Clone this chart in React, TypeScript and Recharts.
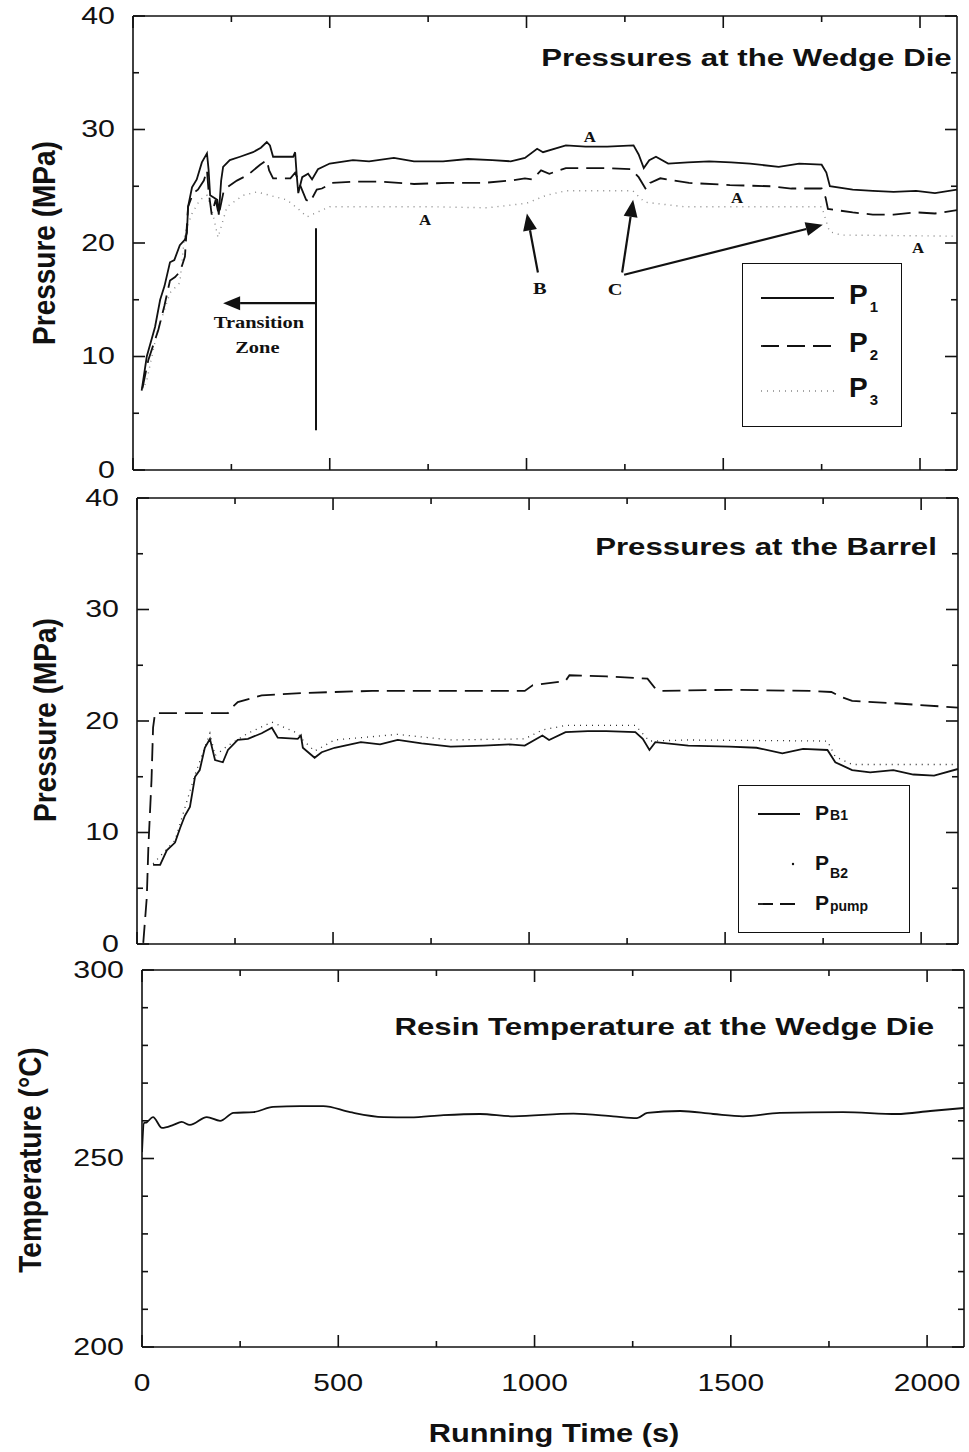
import React from "react";
import { LineChart, Line, XAxis, YAxis, ReferenceLine, ReferenceDot, Legend } from "recharts";

const W = 969;
const X_MAX = 2094;
const INK = "#111";
const SANS = "'Liberation Sans', Arial, Helvetica, sans-serif";
const SERIF = "'Liberation Serif', 'Times New Roman', serif";

const timeTicks = [0, 250, 500, 750, 1000, 1250, 1500, 1750, 2000];
const pressureTicks = [0, 5, 10, 15, 20, 25, 30, 35, 40];
const tempTicks = [200, 210, 220, 230, 240, 250, 260, 270, 280, 290, 300];

// pressures at the wedge die (MPa)
const p1Time = [22, 35, 56, 69, 80, 94, 105, 119, 132, 137, 140, 150, 162, 175, 188, 192, 196, 205, 214, 218, 224, 229, 246, 272, 305, 325, 340, 348, 356, 407, 412, 416, 420, 430, 445, 455, 470, 500, 559, 600, 663, 714, 788, 851, 913, 960, 996, 1027, 1042, 1100, 1150, 1205, 1272, 1285, 1298, 1312, 1329, 1360, 1410, 1464, 1520, 1568, 1641, 1693, 1750, 1762, 1771, 1829, 1880, 1933, 1990, 2038, 2094];
const p1Value = [7.0, 10.0, 12.6, 15.0, 16.2, 18.3, 18.5, 19.8, 20.3, 20.9, 23.2, 24.9, 25.6, 27.1, 27.9, 26.5, 24.2, 24.0, 23.8, 22.5, 25.5, 26.7, 27.3, 27.6, 28.0, 28.4, 28.9, 28.6, 27.6, 27.6, 28.0, 26.0, 24.4, 25.8, 26.1, 25.6, 26.5, 27.0, 27.3, 27.2, 27.5, 27.2, 27.2, 27.4, 27.3, 27.2, 27.5, 28.3, 28.0, 28.6, 28.5, 28.5, 28.6, 27.8, 26.6, 27.3, 27.6, 27.0, 27.1, 27.2, 27.1, 27.0, 26.7, 27.0, 26.9, 26.2, 25.0, 24.7, 24.6, 24.5, 24.6, 24.4, 24.7];

const p2Time = [24, 39, 64, 80, 94, 107, 120, 132, 140, 153, 165, 180, 188, 192, 200, 210, 218, 230, 239, 264, 292, 323, 340, 346, 356, 400, 412, 420, 440, 450, 467, 480, 506, 560, 631, 714, 800, 892, 960, 996, 1015, 1037, 1058, 1100, 1205, 1266, 1285, 1304, 1314, 1340, 1413, 1517, 1621, 1673, 1750, 1760, 1766, 1829, 1880, 1933, 1990, 2038, 2094];
const p2Value = [7.2, 9.7, 12.3, 14.5, 16.7, 17.0, 17.5, 18.8, 23.2, 24.4, 24.7, 25.5, 26.4, 24.6, 22.5, 23.8, 22.5, 24.5, 24.9, 25.5, 26.0, 26.9, 27.3, 26.4, 25.7, 25.7, 26.2, 25.5, 23.8, 23.6, 24.7, 24.8, 25.3, 25.4, 25.4, 25.2, 25.3, 25.3, 25.5, 25.7, 25.6, 26.4, 26.1, 26.6, 26.6, 26.5, 25.8, 24.7, 25.3, 25.7, 25.3, 25.1, 25.0, 24.8, 24.8, 24.0, 23.0, 22.7, 22.5, 22.5, 22.7, 22.6, 22.9];

const p3Time = [30, 35, 61, 94, 119, 132, 150, 170, 188, 200, 216, 239, 280, 315, 391, 420, 442, 500, 600, 750, 900, 1000, 1050, 1100, 1270, 1300, 1400, 1750, 1770, 1800, 2094];
const p3Value = [7.5, 7.9, 12.1, 15.6, 16.5, 20.9, 22.6, 23.8, 24.2, 23.0, 20.5, 23.2, 24.2, 24.5, 23.8, 23.0, 22.3, 23.2, 23.2, 23.2, 23.1, 23.5, 24.2, 24.6, 24.6, 23.6, 23.2, 23.2, 21.0, 20.7, 20.6];

// pressures at the barrel (MPa)
const pb1Time = [41, 59, 76, 97, 110, 122, 135, 148, 160, 173, 186, 199, 219, 232, 257, 283, 318, 344, 359, 410, 418, 423, 453, 471, 504, 571, 620, 665, 726, 800, 884, 950, 989, 1034, 1051, 1093, 1150, 1197, 1271, 1290, 1307, 1322, 1406, 1511, 1580, 1646, 1699, 1761, 1781, 1824, 1870, 1929, 1980, 2033, 2094];
const pb1Value = [7.1, 7.1, 8.4, 9.1, 10.4, 11.5, 12.3, 15.0, 15.6, 17.6, 18.4, 16.5, 16.3, 17.4, 18.3, 18.4, 18.9, 19.4, 18.5, 18.4, 18.7, 17.6, 16.7, 17.2, 17.6, 18.1, 17.9, 18.3, 18.0, 17.7, 17.8, 17.9, 17.8, 18.7, 18.3, 19.0, 19.1, 19.1, 19.0, 18.4, 17.4, 18.1, 17.8, 17.7, 17.6, 17.1, 17.5, 17.4, 16.3, 15.6, 15.4, 15.6, 15.2, 15.1, 15.7];

const pb2Time = [41, 97, 148, 186, 199, 232, 283, 344, 410, 423, 453, 504, 665, 800, 989, 1034, 1093, 1271, 1307, 1406, 1761, 1781, 1824, 2094];
const pb2Value = [7.2, 9.3, 15.2, 18.9, 16.9, 17.8, 18.9, 19.9, 18.9, 18.3, 17.3, 18.3, 18.8, 18.3, 18.4, 19.2, 19.6, 19.6, 18.2, 18.3, 18.2, 16.8, 16.1, 16.1];

const pumpTime = [16, 25, 29, 37, 41, 46, 232, 242, 257, 318, 420, 504, 600, 800, 989, 1009, 1093, 1103, 1197, 1302, 1320, 1333, 1511, 1720, 1771, 1800, 1824, 1929, 2094];
const pumpValue = [0.1, 4.2, 8.7, 14.7, 19.4, 20.7, 20.7, 21.2, 21.7, 22.3, 22.5, 22.6, 22.7, 22.7, 22.7, 23.2, 23.6, 24.1, 24.0, 23.8, 23.0, 22.7, 22.8, 22.7, 22.6, 22.1, 21.8, 21.6, 21.2];

// resin temperature at the wedge die (°C)
const tempTime = [0, 5, 12, 28, 51, 80, 101, 122, 165, 199, 233, 284, 334, 403, 462, 530, 615, 683, 768, 861, 946, 1099, 1200, 1261, 1287, 1371, 1455, 1531, 1625, 1786, 1923, 2008, 2094];
const tempValue = [251.7, 259.4, 259.6, 261.0, 258.1, 258.9, 259.7, 258.9, 261.0, 260.0, 262.1, 262.3, 263.7, 263.9, 263.9, 262.3, 261.0, 260.9, 261.5, 261.8, 261.2, 261.9, 261.2, 260.7, 262.1, 262.6, 261.8, 261.2, 262.1, 262.3, 261.8, 262.6, 263.4];

const zip = (t: number[], v: number[]) => t.map((x, i) => ({ t: x, v: v[i] }));

const isMajorTime = (v: number) => v % 500 === 0;
const isTen = (v: number) => v % 10 === 0;
const isFifty = (v: number) => v % 50 === 0;

type Side = "bottom" | "top" | "left" | "right";

function axisTick(side: Side, major: (v: number) => boolean, label?: (v: number) => boolean) {
  return (props: any) => {
    const { x, y, payload } = props;
    const v = payload.value;
    const len = major(v) ? 12 : 6;
    let x2 = x;
    let y2 = y;
    if (side === "bottom") y2 = y - len;
    if (side === "top") y2 = y + len;
    if (side === "left") x2 = x + len;
    if (side === "right") x2 = x - len;
    let text = null;
    if (label && label(v)) {
      text =
        side === "bottom" ? (
          <text transform={`translate(${x},${y + 36}) scale(1.3,1)`} textAnchor="middle" dominantBaseline="central" fontSize={23} fontFamily={SANS} fill={INK}>
            {v}
          </text>
        ) : (
          <text transform={`translate(${x - 18},${y}) scale(1.32,1)`} textAnchor="end" dominantBaseline="central" fontSize={23} fontFamily={SANS} fill={INK}>
            {v}
          </text>
        );
    }
    return (
      <g>
        <line x1={x} y1={y} x2={x2} y2={y2} stroke={INK} strokeWidth={1.6} />
        {text}
      </g>
    );
  };
}

const axisLine = { stroke: INK, strokeWidth: 1.6 };

function frameAxes(yTicks: number[], yDomain: [number, number], yMajor: (v: number) => boolean, yLabel: (v: number) => boolean, xLabels: boolean, xHeight: number) {
  return [
    <XAxis key="xb" type="number" dataKey="t" domain={[0, X_MAX]} ticks={timeTicks} interval={0} tickSize={0} tickMargin={0} tickLine={false} axisLine={axisLine} height={xHeight} allowDataOverflow tick={axisTick("bottom", isMajorTime, xLabels ? isMajorTime : undefined)} />,
    <XAxis key="xt" xAxisId="top" orientation="top" type="number" dataKey="t" domain={[0, X_MAX]} ticks={timeTicks} interval={0} tickSize={0} tickMargin={0} tickLine={false} axisLine={axisLine} height={1} allowDataOverflow tick={axisTick("top", isMajorTime)} />,
    <YAxis key="yl" type="number" domain={yDomain} ticks={yTicks} interval={0} tickSize={0} tickMargin={0} tickLine={false} axisLine={axisLine} width={60} allowDataOverflow tick={axisTick("left", yMajor, yLabel)} />,
    <YAxis key="yr" yAxisId="right" orientation="right" type="number" domain={yDomain} ticks={yTicks} interval={0} tickSize={0} tickMargin={0} tickLine={false} axisLine={axisLine} width={1} allowDataOverflow tick={axisTick("right", yMajor)} />,
  ];
}

function Arrow(props: any) {
  const { x1, y1, x2, y2 } = props;
  const a = Math.atan2(y2 - y1, x2 - x1);
  const L = 17;
  const H = 7;
  const bx = x2 - L * Math.cos(a);
  const by = y2 - L * Math.sin(a);
  const px = -Math.sin(a) * H;
  const py = Math.cos(a) * H;
  return (
    <g>
      <line x1={x1} y1={y1} x2={bx} y2={by} stroke={INK} strokeWidth={2.2} />
      <polygon points={`${x2},${y2} ${bx + px},${by + py} ${bx - px},${by - py}`} fill={INK} />
    </g>
  );
}

function PlainLine(props: any) {
  const { x1, y1, x2, y2 } = props;
  return <line x1={x1} y1={y1} x2={x2} y2={y2} stroke={INK} strokeWidth={2} />;
}

const serifLabel = (text: string, size: number) => (props: any) => (
  <text transform={`translate(${props.cx},${props.cy}) scale(1.2,1)`} textAnchor="middle" dominantBaseline="central" fontFamily={SERIF} fontWeight="bold" fontSize={size} fill={INK}>
    {text}
  </text>
);

// annotation letters on the wedge-die panel
const noteText = ["A", "A", "A", "A", "B", "C", "Transition", "Zone"];
const noteTime = [742, 1161, 1535, 1995, 1034, 1225, 320, 316];
const notePress = [22.0, 29.3, 24.0, 19.6, 16.0, 15.9, 13.0, 10.8];
const noteSize = [14, 14, 14, 14, 17, 17, 17, 17];

const arrowFrom = [
  { t: 465, p: 14.7 },
  { t: 1029, p: 17.4 },
  { t: 1243, p: 17.4 },
  { t: 1248, p: 17.2 },
];
const arrowTo = [
  { t: 229, p: 14.7 },
  { t: 1001, p: 22.6 },
  { t: 1271, p: 23.8 },
  { t: 1753, p: 21.6 },
];

const dieLegend = [
  { sub: "1", dash: undefined as string | undefined, color: INK, width: 1.8, y: 34 },
  { sub: "2", dash: "18 8", color: INK, width: 1.8, y: 82 },
  { sub: "3", dash: "1 5", color: "#888", width: 1.4, y: 127 },
];

function DieLegend() {
  return (
    <div style={{ position: "relative", width: 160, height: 164, border: `1.5px solid ${INK}`, boxSizing: "border-box", background: "#fff", fontFamily: SANS, color: INK }}>
      {dieLegend.map((it) => (
        <React.Fragment key={it.sub}>
          <svg style={{ position: "absolute", left: 18, top: it.y - 4 }} width={73} height={8}>
            <line x1={0} x2={73} y1={4} y2={4} stroke={it.color} strokeWidth={it.width} strokeDasharray={it.dash} />
          </svg>
          <div style={{ position: "absolute", left: 106, top: it.y - 17, fontSize: 28, fontWeight: "bold", lineHeight: "28px", whiteSpace: "nowrap" }}>
            P<span style={{ fontSize: 15, position: "relative", top: 8, marginLeft: 2 }}>{it.sub}</span>
          </div>
        </React.Fragment>
      ))}
    </div>
  );
}

function BarrelLegend() {
  const row = (y: number, sub: string, drop: number, sample: React.ReactNode) => (
    <React.Fragment key={sub}>
      <svg style={{ position: "absolute", left: 17, top: y - 5 }} width={46} height={10}>
        {sample}
      </svg>
      <div style={{ position: "absolute", left: 76, top: y - 12, fontSize: 21, fontWeight: "bold", lineHeight: "21px", whiteSpace: "nowrap" }}>
        P<span style={{ fontSize: 14, position: "relative", top: drop, marginLeft: 1 }}>{sub}</span>
      </div>
    </React.Fragment>
  );
  return (
    <div style={{ position: "relative", width: 172, height: 148, border: `1.5px solid ${INK}`, boxSizing: "border-box", background: "#fff", fontFamily: SANS, color: INK }}>
      {row(28, "B1", 0, <line x1={2} x2={44} y1={5} y2={5} stroke={INK} strokeWidth={1.8} />)}
      {row(78, "B2", 8, <circle cx={37} cy={5} r={1.2} fill={INK} />)}
      {row(118, "pump", 1, <line x1={2} x2={44} y1={5} y2={5} stroke={INK} strokeWidth={1.8} strokeDasharray="15 7" />)}
    </div>
  );
}

function Stretch({ text, left, right, cy, size, scale, rotate }: { text: string; left?: number; right?: number; cy: number; size: number; scale: number; rotate?: boolean }) {
  const base: React.CSSProperties = {
    position: "absolute",
    top: cy - size / 2,
    fontSize: size,
    lineHeight: `${size}px`,
    fontWeight: "bold",
    fontFamily: SANS,
    color: INK,
    whiteSpace: "nowrap",
  };
  if (rotate) {
    return <div style={{ ...base, left, transform: `translateX(-50%) rotate(-90deg) scaleY(${scale})`, transformOrigin: "center center" }}>{text}</div>;
  }
  if (right !== undefined) {
    return <div style={{ ...base, right: W - right, transform: `scaleX(${scale})`, transformOrigin: "right center" }}>{text}</div>;
  }
  return <div style={{ ...base, left, transform: `translateX(-50%) scaleX(${scale})`, transformOrigin: "center center" }}>{text}</div>;
}

export default function App() {
  const p1 = zip(p1Time, p1Value);
  const p2 = zip(p2Time, p2Value);
  const p3 = zip(p3Time, p3Value);
  const pb1 = zip(pb1Time, pb1Value);
  const pb2 = zip(pb2Time, pb2Value);
  const pump = zip(pumpTime, pumpValue);
  const temp = zip(tempTime, tempValue);

  return (
    <div style={{ position: "absolute", left: 0, top: 0, width: W, height: 1452, background: "#fff", overflow: "hidden", fontFamily: SANS }}>
      {/* resin temperature (drawn first so upper panels sit above it) */}
      <div style={{ position: "absolute", left: 0, top: 955 }}>
        <LineChart width={W} height={497} margin={{ top: 14, right: 4, bottom: 45, left: 82 }}>
          {frameAxes(tempTicks, [200, 300], isFifty, isFifty, true, 60)}
          <Line data={temp} dataKey="v" type="monotone" stroke={INK} strokeWidth={1.8} dot={false} isAnimationActive={false} />
        </LineChart>
      </div>

      {/* barrel pressures */}
      <div style={{ position: "absolute", left: 0, top: 480 }}>
        <LineChart width={W} height={484} margin={{ top: 17, right: 10, bottom: 19, left: 77 }}>
          {frameAxes(pressureTicks, [0, 40], isTen, isTen, false, 1)}
          <Line data={pump} dataKey="v" type="linear" stroke={INK} strokeWidth={1.8} strokeDasharray="18 8" dot={false} isAnimationActive={false} />
          <Line data={pb2} dataKey="v" type="linear" stroke="#333" strokeWidth={1.3} strokeDasharray="1 5" dot={false} isAnimationActive={false} />
          <Line data={pb1} dataKey="v" type="linear" stroke={INK} strokeWidth={1.8} dot={false} isAnimationActive={false} />
          <Legend layout="vertical" align="center" verticalAlign="middle" content={() => <BarrelLegend />} wrapperStyle={{ left: 738, top: 305, width: 172, height: 148 }} />
        </LineChart>
      </div>

      {/* wedge die pressures */}
      <div style={{ position: "absolute", left: 0, top: 0 }}>
        <LineChart width={W} height={489} margin={{ top: 15, right: 11, bottom: 18, left: 73 }}>
          {frameAxes(pressureTicks, [0, 40], isTen, isTen, false, 1)}
          <Line data={p3} dataKey="v" type="linear" stroke="#8a8a8a" strokeWidth={1.4} strokeDasharray="1 5" dot={false} isAnimationActive={false} />
          <Line data={p2} dataKey="v" type="linear" stroke={INK} strokeWidth={1.8} strokeDasharray="18 8" dot={false} isAnimationActive={false} />
          <Line data={p1} dataKey="v" type="linear" stroke={INK} strokeWidth={1.8} dot={false} isAnimationActive={false} />
          <ReferenceLine segment={[{ x: 465, y: 3.5 }, { x: 465, y: 21.3 }]} shape={PlainLine} />
          {arrowFrom.map((f, i) => (
            <ReferenceLine key={`arrow${i}`} segment={[{ x: f.t, y: f.p }, { x: arrowTo[i].t, y: arrowTo[i].p }]} shape={Arrow} />
          ))}
          {noteText.map((s, i) => (
            <ReferenceDot key={`note${i}`} x={noteTime[i]} y={notePress[i]} r={1} shape={serifLabel(s, noteSize[i])} />
          ))}
          <Legend layout="vertical" align="center" verticalAlign="middle" content={() => <DieLegend />} wrapperStyle={{ left: 742, top: 263, width: 160, height: 164 }} />
        </LineChart>
      </div>

      <Stretch text="Pressures at the Wedge Die" right={952} cy={58} size={24} scale={1.3} />
      <Stretch text="Pressures at the Barrel" right={937} cy={547} size={24} scale={1.3} />
      <Stretch text="Resin Temperature at the Wedge Die" right={934} cy={1027} size={24} scale={1.3} />
      <Stretch text="Pressure (MPa)" left={45} cy={243} size={28} scale={1.12} rotate />
      <Stretch text="Pressure (MPa)" left={46} cy={720} size={28} scale={1.12} rotate />
      <Stretch text="Temperature (°C)" left={31} cy={1160} size={28} scale={1.12} rotate />
      <Stretch text="Running Time (s)" left={554} cy={1433} size={25} scale={1.23} />
    </div>
  );
}
